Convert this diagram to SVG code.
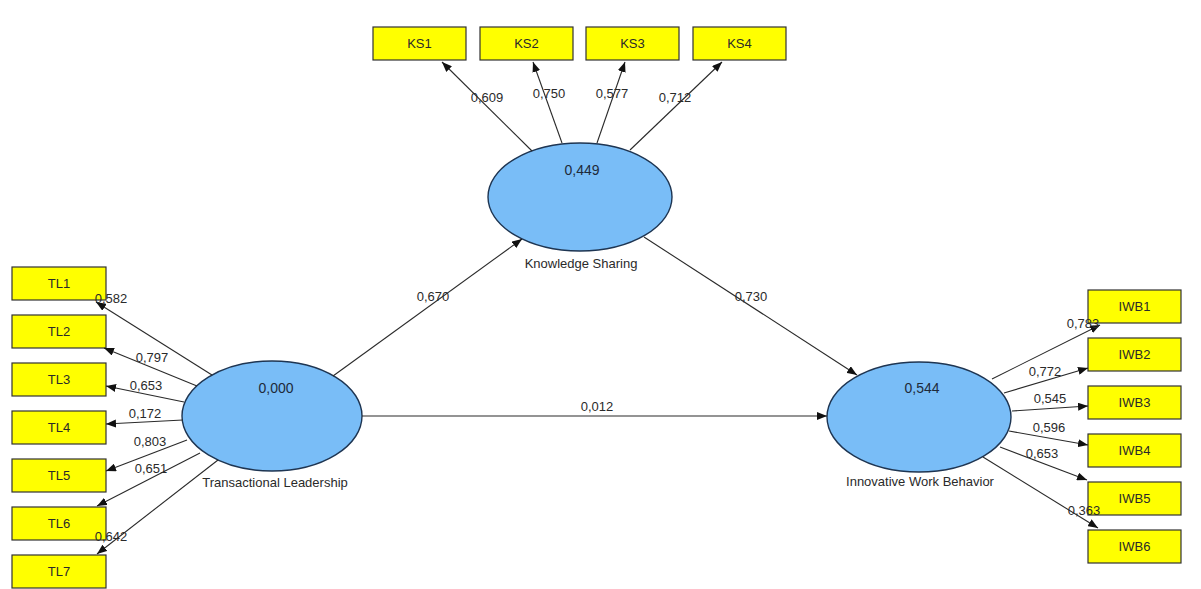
<svg xmlns="http://www.w3.org/2000/svg" width="1201" height="589" viewBox="0 0 1201 589">
<style>
.box{fill:#FFFF00;stroke:#333333;stroke-width:1.2}
.lv{fill:#79BDF7;stroke:#1E3552;stroke-width:1.4}
.t{font-family:"Liberation Sans",Arial,sans-serif;font-size:13px;fill:#2A2A2A;text-anchor:middle}
.v{font-family:"Liberation Sans",Arial,sans-serif;font-size:14px;fill:#1E2A3A;text-anchor:middle}
.c line{stroke:#2A2A2A;stroke-width:1.1;marker-end:url(#ah)}
</style>
<defs>
<marker id="ah" viewBox="0 0 10 8" refX="10" refY="4" markerWidth="10" markerHeight="8" markerUnits="userSpaceOnUse" orient="auto">
<path d="M0,0 L10,4 L0,8 z" fill="#111111"/>
</marker>
</defs>
<rect width="1201" height="589" fill="#FFFFFF"/>

<g id="TL1"><rect class="box" x="12" y="267" width="94" height="33"/><text class="t" x="59" y="288">TL1</text></g>
<g id="TL2"><rect class="box" x="12" y="315" width="94" height="33"/><text class="t" x="59" y="336">TL2</text></g>
<g id="TL3"><rect class="box" x="12" y="363" width="94" height="33"/><text class="t" x="59" y="384">TL3</text></g>
<g id="TL4"><rect class="box" x="12" y="411" width="94" height="33"/><text class="t" x="59" y="432">TL4</text></g>
<g id="TL5"><rect class="box" x="12" y="459" width="94" height="33"/><text class="t" x="59" y="480">TL5</text></g>
<g id="TL6"><rect class="box" x="12" y="507" width="94" height="33"/><text class="t" x="59" y="528">TL6</text></g>
<g id="TL7"><rect class="box" x="12" y="555" width="94" height="33"/><text class="t" x="59" y="576">TL7</text></g>

<g id="KS1"><rect class="box" x="373" y="27" width="93" height="33"/><text class="t" x="419.5" y="48">KS1</text></g>
<g id="KS2"><rect class="box" x="480" y="27" width="93" height="33"/><text class="t" x="526.5" y="48">KS2</text></g>
<g id="KS3"><rect class="box" x="586" y="27" width="93" height="33"/><text class="t" x="632.5" y="48">KS3</text></g>
<g id="KS4"><rect class="box" x="693" y="27" width="93" height="33"/><text class="t" x="739.5" y="48">KS4</text></g>

<g id="IWB1"><rect class="box" x="1088" y="290" width="93" height="33"/><text class="t" x="1134.5" y="311">IWB1</text></g>
<g id="IWB2"><rect class="box" x="1088" y="338" width="93" height="33"/><text class="t" x="1134.5" y="359">IWB2</text></g>
<g id="IWB3"><rect class="box" x="1088" y="386" width="93" height="33"/><text class="t" x="1134.5" y="407">IWB3</text></g>
<g id="IWB4"><rect class="box" x="1088" y="434" width="93" height="33"/><text class="t" x="1134.5" y="455">IWB4</text></g>
<g id="IWB5"><rect class="box" x="1088" y="482" width="93" height="33"/><text class="t" x="1134.5" y="503">IWB5</text></g>
<g id="IWB6"><rect class="box" x="1088" y="530" width="93" height="33"/><text class="t" x="1134.5" y="551">IWB6</text></g>

<g id="TL"><ellipse class="lv" cx="272" cy="416" rx="90" ry="55"/><text class="v" x="276" y="393">0,000</text><text class="t" x="275" y="487">Transactional Leadership</text></g>
<g id="KS"><ellipse class="lv" cx="580" cy="197" rx="92" ry="54"/><text class="v" x="582" y="175">0,449</text><text class="t" x="581" y="268">Knowledge Sharing</text></g>
<g id="IWB"><ellipse class="lv" cx="919" cy="417" rx="92" ry="55"/><text class="v" x="922" y="393">0,544</text><text class="t" x="920" y="486">Innovative Work Behavior</text></g>

<g id="connectors" class="c">
<line x1="212" y1="375" x2="96" y2="302"/>
<line x1="197" y1="386" x2="104" y2="348"/>
<line x1="184" y1="402" x2="106" y2="386"/>
<line x1="183" y1="420" x2="106" y2="424"/>
<line x1="187" y1="440" x2="106" y2="471"/>
<line x1="200" y1="453" x2="97" y2="506"/>
<line x1="218" y1="460" x2="97" y2="554"/>
<line x1="532" y1="151" x2="442" y2="62"/>
<line x1="562" y1="143" x2="533" y2="62"/>
<line x1="597" y1="143" x2="625" y2="62"/>
<line x1="630" y1="150" x2="722" y2="62"/>
<line x1="333" y1="376" x2="522" y2="239"/>
<line x1="644" y1="237" x2="857" y2="375"/>
<line x1="362" y1="416" x2="827" y2="416"/>
<line x1="992" y1="379" x2="1100" y2="325"/>
<line x1="1004" y1="393" x2="1088" y2="368"/>
<line x1="1012" y1="411" x2="1088" y2="406"/>
<line x1="1009" y1="431" x2="1088" y2="445"/>
<line x1="1000" y1="447" x2="1087" y2="480"/>
<line x1="983" y1="457" x2="1098" y2="528"/>
</g>

<g id="labels">
<text class="t" x="111" y="303">0,582</text>
<text class="t" x="152" y="362">0,797</text>
<text class="t" x="146" y="390">0,653</text>
<text class="t" x="145" y="418">0,172</text>
<text class="t" x="150" y="446">0,803</text>
<text class="t" x="151" y="473">0,651</text>
<text class="t" x="111" y="541">0,642</text>
<text class="t" x="487" y="102">0,609</text>
<text class="t" x="549" y="98">0,750</text>
<text class="t" x="612" y="98">0,577</text>
<text class="t" x="675" y="102">0,712</text>
<text class="t" x="433" y="301">0,670</text>
<text class="t" x="751" y="301">0,730</text>
<text class="t" x="597" y="411">0,012</text>
<text class="t" x="1083" y="328">0,783</text>
<text class="t" x="1045" y="376">0,772</text>
<text class="t" x="1050" y="403">0,545</text>
<text class="t" x="1049" y="432">0,596</text>
<text class="t" x="1042" y="458">0,653</text>
<text class="t" x="1084" y="515">0,363</text>
</g>
</svg>
